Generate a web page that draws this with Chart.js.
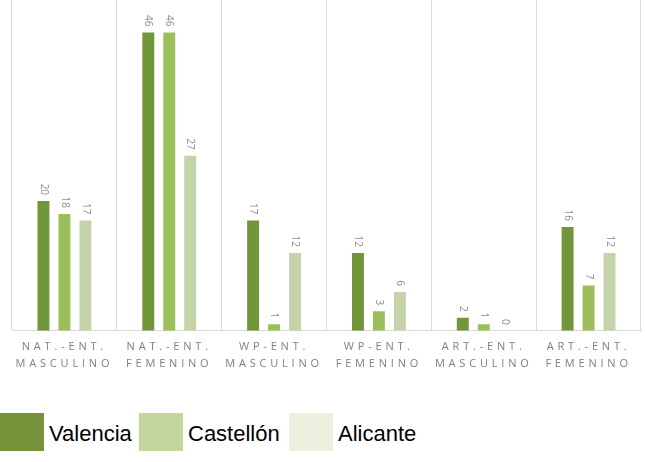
<!DOCTYPE html>
<html>
<head>
<meta charset="utf-8">
<script src="https://cdn.jsdelivr.net/npm/chart.js@4"></script>
<style>
  body { margin: 0; background: #fff; }
  #wrap { position: relative; width: 645px; height: 462px; }
  #chartBox { position: absolute; left: 0; top: 0; width: 645px; height: 380px; }
  #legend { position: absolute; left: 0; top: 413px; height: 38px; font-family: "Liberation Sans", Arial, sans-serif; font-size: 22px; color: #000; }
  .leg-item { position: absolute; top: 0; height: 38px; }
  .leg-box { position: absolute; left: 0; top: 0; width: 44px; height: 38px; }
  .leg-text { position: absolute; left: 49px; top: 8px; white-space: nowrap; }
</style>
</head>
<body>
<div id="wrap">
  <div id="chartBox"><canvas id="myChart"></canvas></div>
  <div id="legend"></div>
</div>
<script>
const categories = [
  ['NAT.-ENT.', 'MASCULINO'],
  ['NAT.-ENT.', 'FEMENINO'],
  ['WP-ENT.', 'MASCULINO'],
  ['WP-ENT.', 'FEMENINO'],
  ['ART.-ENT.', 'MASCULINO'],
  ['ART.-ENT.', 'FEMENINO']
];
const seriesNames = ['Valencia', 'Castellón', 'Alicante'];
const valencia = [20, 46, 17, 12, 2, 16];
const castellon = [18, 46, 1, 3, 1, 7];
const alicante = [17, 27, 12, 6, 0, 12];
const barColors = ['#72963a', '#9dbf5b', '#c5d3ab'];
const legendColors = ['#77933c', '#c3d69b', '#ebf1de'];
const legendLeft = [0, 139, 289];

// legend
const legendEl = document.getElementById('legend');
seriesNames.forEach((name, i) => {
  const item = document.createElement('div');
  item.className = 'leg-item';
  item.style.left = legendLeft[i] + 'px';
  item.innerHTML = '<div class="leg-box" style="background:' + legendColors[i] + '"></div><div class="leg-text">' + name + '</div>';
  legendEl.appendChild(item);
});

const spacing = {
  id: 'spacing',
  beforeDraw(chart) {
    chart.ctx.letterSpacing = '3.8px';
  }
};

const valueLabels = {
  id: 'valueLabels',
  afterDatasetsDraw(chart) {
    const ctx = chart.ctx;
    ctx.save();
    ctx.letterSpacing = '0px';
    ctx.font = '10px "Open Sans", sans-serif';
    ctx.fillStyle = '#8c8c8c';
    ctx.textBaseline = 'middle';
    chart.data.datasets.forEach((ds, di) => {
      chart.getDatasetMeta(di).data.forEach((bar, i) => {
        ctx.save();
        ctx.translate(bar.x, bar.y - 6);
        ctx.rotate(Math.PI / 2);
        ctx.textAlign = 'right';
        ctx.fillText(String(ds.data[i]), 0, 0);
        ctx.restore();
      });
    });
    ctx.restore();
  }
};

const ctx = document.getElementById('myChart');

new Chart(ctx, {
  type: 'bar',
  data: {
    labels: categories,
    datasets: [
      { label: seriesNames[0], data: valencia, backgroundColor: barColors[0] },
      { label: seriesNames[1], data: castellon, backgroundColor: barColors[1] },
      { label: seriesNames[2], data: alicante, backgroundColor: barColors[2] }
    ]
  },
  options: {
    responsive: true,
    maintainAspectRatio: false,
    animation: false,
    categoryPercentage: 0.6,
    barPercentage: 0.57,
    layout: { padding: { left: 12, right: 4, top: 0, bottom: 0 } },
    plugins: {
      legend: { display: false },
      tooltip: { enabled: false }
    },
    scales: {
      x: {
        grid: { color: '#d9d9d9', drawTicks: false, offset: true },
        border: { color: '#d9d9d9' },
        ticks: {
          color: '#7f7f7f',
          padding: 7,
          maxRotation: 0,
          autoSkip: false,
          font: { family: '"Open Sans", sans-serif', size: 11, lineHeight: 1.6 }
        }
      },
      y: {
        display: false,
        min: 0,
        max: 51
      }
    }
  },
  plugins: [spacing, valueLabels]
});
</script>
</body>
</html>
